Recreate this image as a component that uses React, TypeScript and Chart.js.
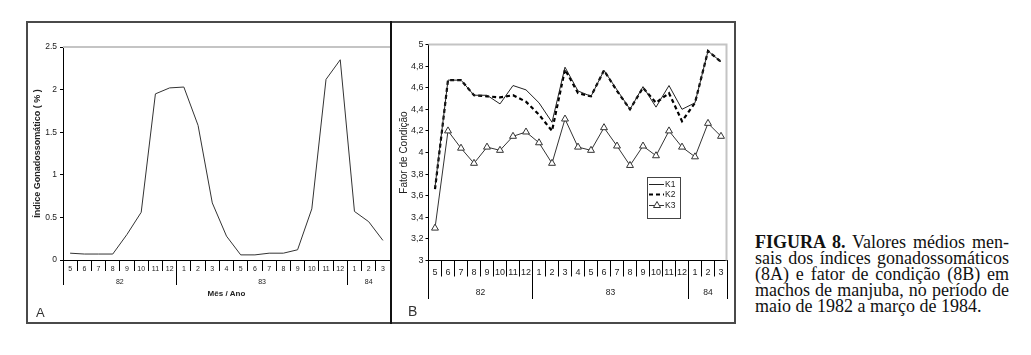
import React, { useEffect, useRef } from 'react';
import { Chart, registerables } from 'chart.js';

Chart.register(...registerables);

// ---------- data ----------
const months = ['5', '6', '7', '8', '9', '10', '11', '12', '1', '2', '3', '4', '5', '6', '7', '8', '9', '10', '11', '12', '1', '2', '3'];
const yearLabels = ['82', '83', '84'];
const yearSpans = [8, 12, 3];

const igsValues = [0.08, 0.07, 0.07, 0.07, 0.3, 0.56, 1.95, 2.02, 2.03, 1.58, 0.67, 0.28, 0.06, 0.06, 0.08, 0.08, 0.12, 0.6, 2.12, 2.35, 0.57, 0.45, 0.23];

const k1Values = [3.68, 4.67, 4.67, 4.53, 4.53, 4.45, 4.62, 4.58, 4.46, 4.28, 4.79, 4.57, 4.52, 4.76, 4.58, 4.4, 4.61, 4.42, 4.62, 4.4, 4.46, 4.94, 4.84];
const k2Values = [3.66, 4.67, 4.67, 4.53, 4.52, 4.51, 4.53, 4.47, 4.35, 4.2, 4.77, 4.55, 4.52, 4.76, 4.57, 4.4, 4.6, 4.46, 4.55, 4.29, 4.46, 4.94, 4.84];
const k3Values = [3.3, 4.2, 4.04, 3.9, 4.05, 4.02, 4.15, 4.19, 4.09, 3.9, 4.31, 4.05, 4.02, 4.23, 4.06, 3.88, 4.06, 3.97, 4.2, 4.05, 3.96, 4.27, 4.15];
const seriesNames = ['K1', 'K2', 'K3'];

const titleA = 'Índice Gonadossomático ( % )';
const xTitleA = 'Mês / Ano';
const titleB = 'Fator de Condição';

const captionBold = 'FIGURA 8.';
const captionLines = [
  ' Valores médios men-',
  'sais dos índices gonadossomáticos',
  '(8A) e fator de condição (8B) em',
  'machos de manjuba, no período de',
  'maio de 1982 a março de 1984.',
];

const SANS = "'Liberation Sans', Arial, sans-serif";
const SERIF = "'Liberation Serif', 'Times New Roman', serif";
const TEXT = '#222';

// ---------- plugins ----------
const align = (p: number) => Math.round(p - 0.5) + 0.5;

const yearAxisPlugin = {
  id: 'yearAxis',
  afterDraw(chart: any, _args: any, opts: any) {
    const x = chart.scales.x;
    const ctx = chart.ctx;
    const step = x.getPixelForValue(1) - x.getPixelForValue(0);
    const top = x.top;
    ctx.save();
    ctx.strokeStyle = '#000';
    ctx.lineWidth = 1;
    ctx.fillStyle = TEXT;
    ctx.font = opts.font;
    ctx.textAlign = 'center';
    ctx.textBaseline = 'middle';
    let start = 0;
    opts.spans.forEach((span: number, i: number) => {
      const left = x.getPixelForValue(start) - step / 2;
      const right = x.getPixelForValue(start + span - 1) + step / 2;
      const ps = [left];
      if (i === opts.spans.length - 1 && opts.drawEnd) ps.push(right);
      ps.forEach((px) => {
        const p = align(px);
        ctx.beginPath();
        ctx.moveTo(p, top);
        ctx.lineTo(p, top + opts.depth);
        ctx.stroke();
      });
      ctx.fillText(opts.labels[i], (left + right) / 2, top + opts.labelOffset);
      start += span;
    });
    ctx.restore();
  },
};

const plotFramePlugin = {
  id: 'plotFrame',
  beforeDatasetsDraw(chart: any, _args: any, opts: any) {
    const { left, right, top, bottom } = chart.chartArea;
    const ctx = chart.ctx;
    ctx.save();
    ctx.strokeStyle = '#c4c4c4';
    ctx.lineWidth = 2;
    ctx.beginPath();
    ctx.moveTo(left, top);
    ctx.lineTo(right, top);
    if (opts.right) {
      ctx.moveTo(right - 1, top);
      ctx.lineTo(right - 1, bottom);
    }
    ctx.stroke();
    ctx.restore();
  },
};

const boxLegendPlugin = {
  id: 'boxLegend',
  afterDraw(chart: any, _args: any, opts: any) {
    const ca = chart.chartArea;
    const ctx = chart.ctx;
    const x0 = Math.round(ca.left + opts.dx);
    const y0 = Math.round(ca.top + opts.dy);
    ctx.save();
    ctx.fillStyle = '#fff';
    ctx.fillRect(x0, y0, opts.w, opts.h);
    ctx.strokeStyle = '#444';
    ctx.lineWidth = 1;
    ctx.strokeRect(x0 + 0.5, y0 + 0.5, opts.w, opts.h);
    ctx.font = opts.font;
    ctx.textAlign = 'left';
    ctx.textBaseline = 'middle';
    chart.data.datasets.forEach((ds: any, i: number) => {
      const y = Math.round(y0 + opts.firstRow + i * opts.rowGap) + 0.5;
      ctx.strokeStyle = ds.borderColor;
      ctx.lineWidth = ds.borderWidth;
      ctx.setLineDash(ds.borderDash || []);
      ctx.beginPath();
      ctx.moveTo(x0 + 2, y);
      ctx.lineTo(x0 + 17, y);
      ctx.stroke();
      ctx.setLineDash([]);
      if (ds.pointStyle === 'triangle') {
        const cx = x0 + 10;
        const r = ds.pointRadius;
        ctx.beginPath();
        ctx.moveTo(cx, y - r);
        ctx.lineTo(cx + r * 0.87, y + r * 0.5);
        ctx.lineTo(cx - r * 0.87, y + r * 0.5);
        ctx.closePath();
        ctx.fillStyle = '#fff';
        ctx.fill();
        ctx.lineWidth = 1;
        ctx.strokeStyle = ds.pointBorderColor;
        ctx.stroke();
      }
      ctx.fillStyle = TEXT;
      ctx.fillText(ds.label, x0 + 18, y);
    });
    ctx.restore();
  },
};

// ---------- chart configs ----------
function configA(): any {
  return {
    type: 'line',
    data: {
      labels: months,
      datasets: [
        {
          label: 'IGS',
          data: igsValues,
          borderColor: '#333',
          borderWidth: 1,
          pointRadius: 0,
          tension: 0,
          fill: false,
        },
      ],
    },
    options: {
      responsive: false,
      animation: false,
      events: [],
      layout: { padding: { top: 24, left: 0, right: 0, bottom: 0 } },
      plugins: {
        legend: { display: false },
        tooltip: { enabled: false },
        yearAxis: { spans: yearSpans, labels: yearLabels, depth: 25, labelOffset: 21.7, font: `7px ${SANS}`, drawEnd: false },
        plotFrame: { right: false },
      },
      scales: {
        x: {
          type: 'category',
          offset: true,
          afterFit: (s: any) => { s.height = 63; },
          grid: { offset: true, drawOnChartArea: false, drawTicks: true, tickLength: 11, color: '#000', lineWidth: 1 },
          border: { display: true, color: '#000', width: 1 },
          ticks: { autoSkip: false, maxRotation: 0, padding: -6.5, color: TEXT, font: { family: SANS, size: 7 } },
          title: { display: true, text: xTitleA, color: TEXT, font: { family: SANS, size: 8, weight: 'bold' }, padding: { top: 0, bottom: 24 } },
        },
        y: {
          min: 0,
          max: 2.5,
          afterFit: (s: any) => { s.width = 35; },
          grid: { drawOnChartArea: false, drawTicks: true, tickLength: 3, color: '#000' },
          border: { display: true, color: '#000', width: 1 },
          ticks: {
            stepSize: 0.5,
            padding: 3,
            color: TEXT,
            font: { family: SANS, size: 8.5 },
            callback: (v: any) => String(Number(Number(v).toFixed(1))),
          },
          title: { display: true, text: titleA, color: TEXT, font: { family: SANS, size: 9, weight: 'bold' }, padding: { top: 4.6, bottom: 0 } },
        },
      },
    },
    plugins: [yearAxisPlugin, plotFramePlugin],
  };
}

function configB(): any {
  return {
    type: 'line',
    data: {
      labels: months,
      datasets: [
        {
          label: seriesNames[0],
          data: k1Values,
          borderColor: '#222',
          borderWidth: 1,
          pointRadius: 0,
          tension: 0,
          fill: false,
        },
        {
          label: seriesNames[1],
          data: k2Values,
          borderColor: '#000',
          borderWidth: 2.2,
          borderDash: [4, 3],
          pointRadius: 0,
          tension: 0,
          fill: false,
        },
        {
          label: seriesNames[2],
          data: k3Values,
          borderColor: '#333',
          borderWidth: 1,
          pointStyle: 'triangle',
          pointRadius: 4,
          pointBackgroundColor: '#fff',
          pointBorderColor: '#333',
          pointBorderWidth: 1,
          tension: 0,
          fill: false,
        },
      ],
    },
    options: {
      responsive: false,
      animation: false,
      events: [],
      layout: { padding: { top: 21.5, left: 0, right: 6.5, bottom: 0 } },
      plugins: {
        legend: { display: false },
        tooltip: { enabled: false },
        yearAxis: { spans: yearSpans, labels: yearLabels, depth: 38.5, labelOffset: 32.5, font: `8.5px ${SANS}`, drawEnd: true },
        plotFrame: { right: true },
        boxLegend: { dx: 218.8, dy: 132.8, w: 33, h: 41, firstRow: 6.5, rowGap: 10.8, font: `8.5px ${SANS}` },
      },
      scales: {
        x: {
          type: 'category',
          offset: true,
          afterFit: (s: any) => { s.height = 62.5; },
          grid: { offset: true, drawOnChartArea: false, drawTicks: true, tickLength: 16, color: '#000', lineWidth: 1 },
          border: { display: true, color: '#000', width: 1 },
          ticks: { autoSkip: false, maxRotation: 0, padding: -9, color: TEXT, font: { family: SANS, size: 9 } },
        },
        y: {
          min: 3,
          max: 5,
          afterFit: (s: any) => { s.width = 36.5; },
          grid: { drawOnChartArea: false, drawTicks: true, tickLength: 3, color: '#000' },
          border: { display: true, color: '#000', width: 1 },
          ticks: {
            stepSize: 0.2,
            padding: 2,
            color: TEXT,
            font: { family: SANS, size: 9 },
            callback: (v: any) => String(Number(Number(v).toFixed(1))).replace('.', ','),
          },
          title: { display: true, text: titleB, color: TEXT, font: { family: SANS, size: 10 }, padding: { top: 6, bottom: 0 } },
        },
      },
    },
    plugins: [yearAxisPlugin, plotFramePlugin, boxLegendPlugin],
  };
}

function ChartCanvas({ make, left, top, width, height }: any) {
  const ref = useRef<HTMLCanvasElement>(null);
  useEffect(() => {
    const chart = new Chart(ref.current as HTMLCanvasElement, make());
    return () => chart.destroy();
  }, []);
  return (
    <canvas
      ref={ref}
      width={width}
      height={height}
      style={{ position: 'absolute', left, top, width, height, display: 'block' }}
    />
  );
}

export default function App() {
  return (
    <div style={{ position: 'absolute', left: 0, top: 0, width: 1031, height: 355, background: '#fff', overflow: 'hidden' }}>
      <ChartCanvas make={configA} left={28} top={23} width={362} height={300} />
      <ChartCanvas make={configB} left={392} top={23} width={342} height={300} />
      <div style={{ position: 'absolute', left: 26, top: 21, width: 706, height: 299, border: '2px solid #4a4a4a', pointerEvents: 'none' }} />
      <div style={{ position: 'absolute', left: 390, top: 21, width: 2, height: 303, background: '#111' }} />
      <div style={{ position: 'absolute', left: 36, top: 306, fontFamily: SANS, fontSize: 13, lineHeight: '13px', color: '#333' }}>A</div>
      <div style={{ position: 'absolute', left: 408, top: 303.6, fontFamily: SANS, fontSize: 14, lineHeight: '14px', color: '#333' }}>B</div>
      <div style={{ position: 'absolute', left: 755, top: 235, width: 254, fontFamily: SERIF, fontSize: 18, lineHeight: '15.9px', color: '#111' }}>
        {captionLines.map((line, i) => (
          <div
            key={i}
            style={{
              textAlign: 'justify',
              textAlignLast: i < captionLines.length - 1 ? 'justify' : 'left',
              whiteSpace: 'nowrap',
            }}
          >
            {i === 0 ? <b>{captionBold}</b> : null}
            {line}
          </div>
        ))}
      </div>
    </div>
  );
}
